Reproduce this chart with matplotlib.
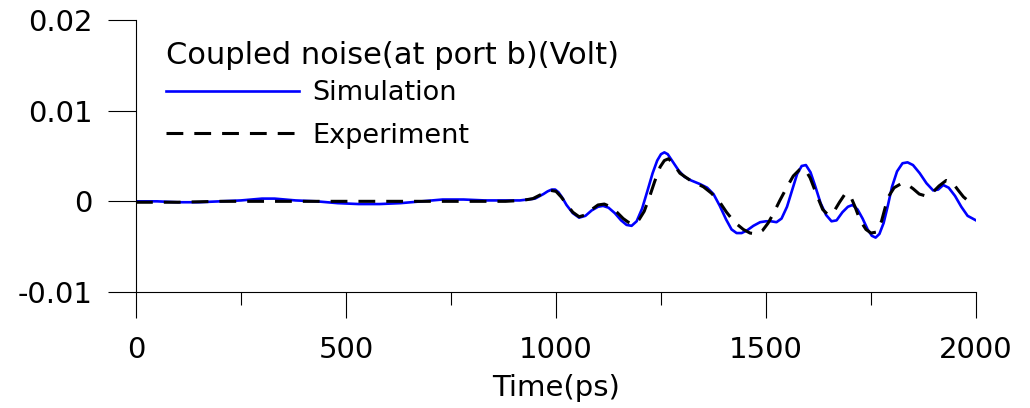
import matplotlib
matplotlib.use("Agg")
import matplotlib.pyplot as plt
from matplotlib.ticker import MultipleLocator

plt.rcParams['font.family'] = ['DejaVu Sans']

# simulation (blue)
sim_t = [0, 50, 100, 150, 200, 250, 300, 330, 380, 430, 480, 530, 580, 630, 680,
         730, 780, 830, 880, 914, 950, 970, 980, 990, 998, 1006, 1015, 1025, 1040,
         1055, 1070, 1085, 1100, 1112, 1125, 1140, 1155, 1168, 1180, 1192, 1205,
         1218, 1230, 1241, 1250, 1258, 1266, 1279, 1292, 1306, 1322, 1343, 1360,
         1375, 1390, 1405, 1418, 1430, 1442, 1455, 1470, 1486, 1500, 1512, 1525,
         1537, 1550, 1562, 1574, 1585, 1595, 1606, 1617, 1630, 1643, 1656, 1668,
         1682, 1695, 1706, 1718, 1730, 1742, 1752, 1761, 1770, 1780, 1790, 1800,
         1812, 1825, 1837, 1850, 1866, 1882, 1898, 1910, 1922, 1935, 1950, 1965,
         1980, 2000]
sim_v = [0.0, 0.0, -0.0001, -0.0001, 0.0, 0.0001, 0.0003, 0.0003, 0.0001, 0.0,
         -0.0002, -0.0003, -0.0003, -0.0002, 0.0, 0.0002, 0.0002, 0.0001, 0.0001,
         0.0001, 0.0003, 0.0008, 0.0011, 0.0013, 0.0013, 0.001, 0.0004, -0.0004,
         -0.0013, -0.0018, -0.0016, -0.001, -0.0006, -0.0005, -0.0007, -0.0013,
         -0.0021, -0.0026, -0.0027, -0.0022, -0.0008, 0.0012, 0.0031, 0.0045,
         0.0052, 0.0054, 0.0052, 0.0043, 0.0034, 0.0027, 0.0023, 0.0019, 0.0015,
         0.0008, -0.0005, -0.002, -0.0031, -0.0035, -0.0035, -0.0032, -0.0027,
         -0.0023, -0.0022, -0.0022, -0.0023, -0.0019, -0.0006, 0.0012, 0.003,
         0.0039, 0.004, 0.0032, 0.0017, -0.0002, -0.0015, -0.0022, -0.0021,
         -0.0012, -0.0006, -0.0004, -0.0009, -0.0019, -0.0031, -0.0038, -0.004,
         -0.0036, -0.0024, -0.0005, 0.0016, 0.0033, 0.0042, 0.0043, 0.004,
         0.0031, 0.002, 0.0012, 0.0013, 0.0018, 0.0015, 0.0006, -0.0006,
         -0.0016, -0.0021]

# experiment (black dashed)
exp_t = [0, 100, 200, 300, 400, 500, 600, 700, 800, 880, 920, 945, 962, 975, 988,
         1000, 1012, 1025, 1040, 1055, 1070, 1085, 1100, 1115, 1130, 1145, 1160,
         1172, 1185, 1198, 1210, 1222, 1235, 1248, 1258, 1268, 1280, 1295, 1320,
         1351, 1370, 1390, 1406, 1425, 1446, 1462, 1478, 1492, 1505, 1517, 1533,
         1549, 1565, 1580, 1592, 1605, 1620, 1635, 1648, 1662, 1675, 1688, 1700,
         1712, 1724, 1738, 1750, 1762, 1775, 1790, 1805, 1820, 1835, 1850, 1865,
         1880, 1895, 1912, 1929, 1945, 1958, 1970, 1980]
exp_v = [-0.0001, -0.0001, 0.0, 0.0, 0.0, 0.0, 0.0, 0.0, 0.0, 0.0, 0.0001,
         0.0003, 0.0007, 0.001, 0.0012, 0.0011, 0.0005, -0.0003, -0.0012,
         -0.0017, -0.0015, -0.0009, -0.0004, -0.0003, -0.0006, -0.0012, -0.0019,
         -0.0023, -0.0025, -0.002, -0.0011, 0.0004, 0.0022, 0.0038, 0.0045,
         0.0047, 0.0041, 0.0031, 0.0023, 0.0016, 0.0009, -0.0001, -0.0012,
         -0.0023, -0.0031, -0.0035, -0.0036, -0.0032, -0.0024, -0.0014, 0.0001,
         0.0015, 0.0028, 0.0035, 0.0036, 0.0026, 0.0008, -0.0009, -0.0015,
         -0.0011, -0.0001, 0.0008, 0.0007, -0.0006, -0.0021, -0.0031, -0.0035,
         -0.0034, -0.0022, 0.0004, 0.0015, 0.0019, 0.0019, 0.0014, 0.0008,
         0.0006, 0.0009, 0.0017, 0.0023, 0.002, 0.0012, 0.0005, 0.0001]

xticks = [0, 500, 1000, 1500, 2000]
yticks = [-0.01, 0, 0.01, 0.02]
ytick_labels = ["-0.01", "0", "0.01", "0.02"]

fig = plt.figure(figsize=(10.3, 4.08), dpi=100)
ax = fig.add_axes([136 / 1030, 1 - 292 / 408, 840 / 1030, 272 / 408])

ax.plot(sim_t, sim_v, color="#0000ff", lw=1.9, label="Simulation")
ax.plot(exp_t, exp_v, color="black", lw=2.2, linestyle=(0, (5.5, 3.6)), label="Experiment")

ax.set_xlim(0, 2000)
ax.set_ylim(-0.01, 0.02)
ax.set_xticks(xticks)
ax.xaxis.set_minor_locator(MultipleLocator(250))
ax.set_yticks(yticks, labels=ytick_labels)

for s in ["top", "right"]:
    ax.spines[s].set_visible(False)
for s in ["left", "bottom"]:
    ax.spines[s].set_linewidth(0.8)

ax.tick_params(axis="x", which="major", length=19, width=0.8, pad=13, labelsize=21)
ax.tick_params(axis="x", which="minor", length=9.5, width=0.8)
ax.tick_params(axis="y", which="major", length=20, width=0.8, pad=11, labelsize=21)

ax.set_xlabel("Time(ps)", fontsize=21, labelpad=7)

# legend title drawn as a separate text so the row spacing can be set freely
fig.text(166 / 1030, 1 - 64.5 / 408, "Coupled noise(at port b)(Volt)",
         fontsize=22, ha="left", va="baseline")
leg = ax.legend(loc="upper left", bbox_to_anchor=(166 / 1030, 1 - 80.5 / 408),
                bbox_transform=fig.transFigure, frameon=False, fontsize=19.5,
                borderpad=0, borderaxespad=0,
                handlelength=4.9, handletextpad=0.5, labelspacing=0.6)

fig.savefig("out.png", dpi=100)
